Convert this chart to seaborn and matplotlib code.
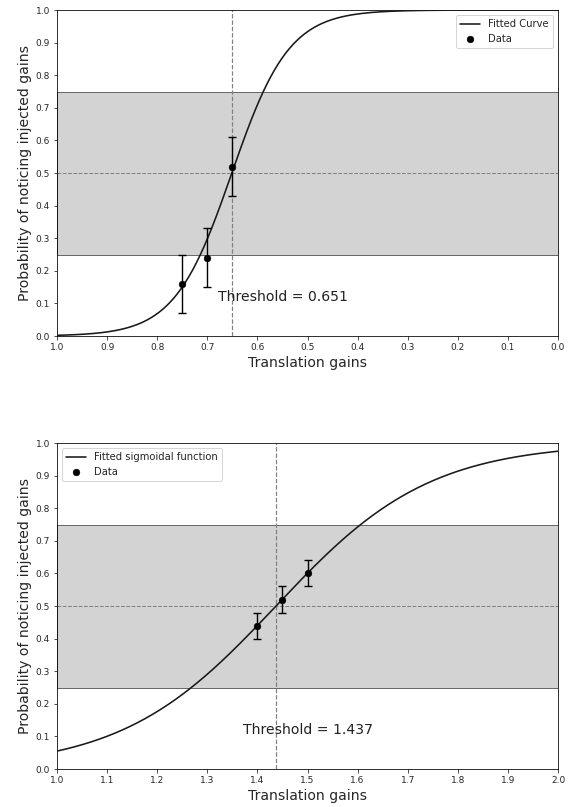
import numpy as np
import pandas as pd
import matplotlib
matplotlib.use("Agg")
import matplotlib.pyplot as plt
import seaborn as sns

sns.set_style("ticks")
plt.rcParams['font.family'] = ['DejaVu Sans']

# ---- top panel data (gain < 1) ----
top_gains = [0.75, 0.70, 0.65]
top_prob = [0.16, 0.24, 0.52]
top_err = [0.09, 0.09, 0.09]
top_threshold = 0.651
top_slope = -17.5  # fitted logistic slope

# ---- bottom panel data (gain > 1) ----
bot_gains = [1.40, 1.45, 1.50]
bot_prob = [0.44, 0.52, 0.60]
bot_err = [0.04, 0.04, 0.04]
bot_threshold = 1.437
bot_slope = 6.5

y_ticks = [0.0, 0.1, 0.2, 0.3, 0.4, 0.5, 0.6, 0.7, 0.8, 0.9, 1.0]


def logistic(x, t, k):
    return 1.0 / (1.0 + np.exp(-k * (x - t)))


fig = plt.figure(figsize=(570 / 72, 807 / 72), dpi=72)
ax1 = fig.add_axes([0.1, 0.5836, 0.879, 0.404])
ax2 = fig.add_axes([0.1, 0.047, 0.879, 0.404])

panels = [
    (ax1, top_gains, top_prob, top_err, top_threshold, top_slope, (0.0, 1.0),
     'Fitted Curve', 'upper right', 0.679),
    (ax2, bot_gains, bot_prob, bot_err, bot_threshold, bot_slope, (1.0, 2.0),
     'Fitted sigmoidal function', 'upper left', 1.371),
]

for ax, gx, gy, ge, thr, k, xr, curve_label, loc, text_x in panels:
    ax.axhspan(0.25, 0.75, facecolor='lightgray', edgecolor='dimgray', linewidth=1, zorder=0)
    ax.axhline(0.5, color='gray', linestyle='--', linewidth=1, zorder=1)
    ax.axvline(thr, color='gray', linestyle='--', linewidth=1.2, zorder=1)

    xs = np.linspace(xr[0], xr[1], 400)
    curve = pd.DataFrame({'x': xs, 'p': logistic(xs, thr, k)})
    sns.lineplot(data=curve, x='x', y='p', color='#1a1a1a', linewidth=1.6,
                 label=curve_label, ax=ax, zorder=3)

    ax.errorbar(gx, gy, yerr=ge, fmt='none', ecolor='black', capsize=4,
                elinewidth=1.4, capthick=1.4, zorder=4)
    sns.scatterplot(x=gx, y=gy, color='black', s=45, edgecolor='black',
                    label='Data', ax=ax, zorder=5)

    ax.text(text_x, 0.12, f'Threshold = {thr:.3f}', fontsize=14,
            ha='left', va='center', color='#222222')

    ax.set_ylim(0, 1)
    ax.set_yticks(y_ticks)
    ax.set_xlabel('Translation gains', fontsize=14)
    ax.set_ylabel('Probability of noticing injected gains', fontsize=14)
    ax.tick_params(labelsize=9)
    ax.legend(loc=loc, fontsize=10, frameon=True)

ax1.set_xlim(1.0, 0.0)
ax1.set_xticks(np.round(np.arange(1.0, -0.01, -0.1), 1))
ax2.set_xlim(1.0, 2.0)
ax2.set_xticks(np.round(np.arange(1.0, 2.01, 0.1), 1))

for ax in (ax1, ax2):
    for s in ax.spines.values():
        s.set_visible(True)
        s.set_color('black')

fig.savefig('out.png', dpi=72)
